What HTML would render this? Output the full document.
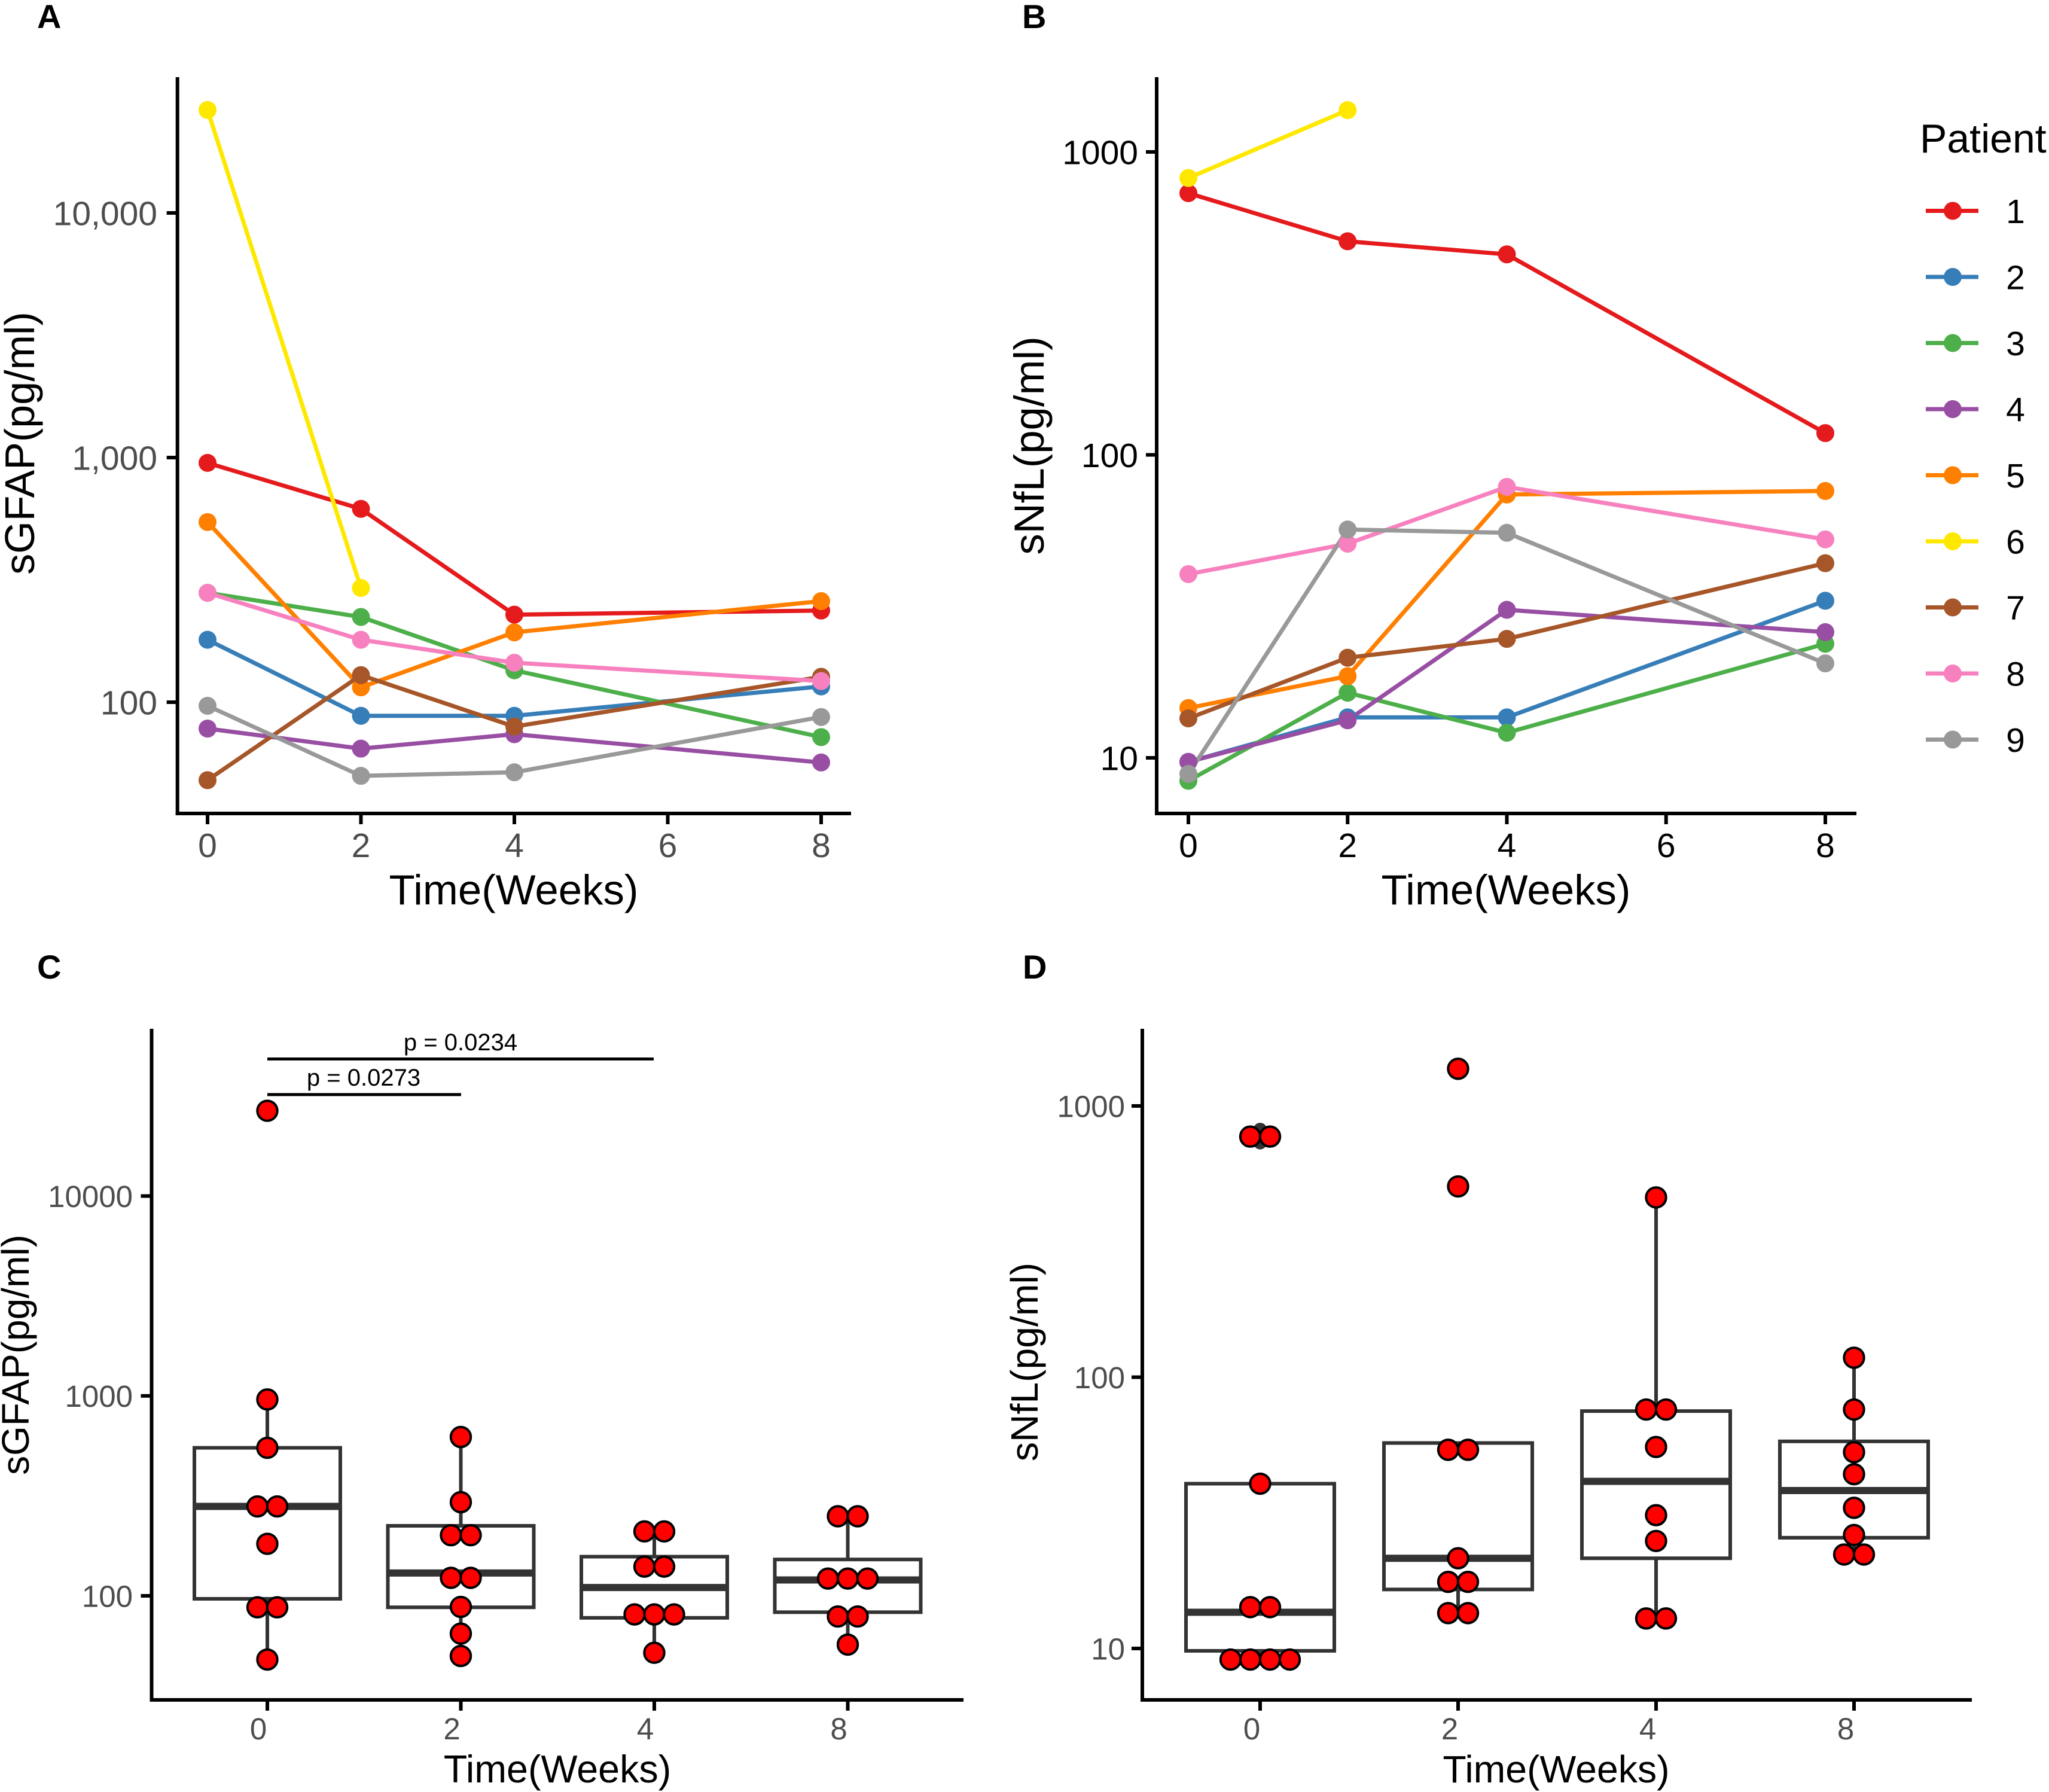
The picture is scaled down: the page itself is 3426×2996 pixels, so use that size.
<!DOCTYPE html>
<html lang="en">
<head>
<meta charset="utf-8">
<title>sGFAP and sNfL over time</title>
<style>
html,body{margin:0;padding:0;background:#fff;}
svg{display:block;}
text{font-family:"Liberation Sans",Arial,sans-serif;}
</style>
</head>
<body>
<svg id="figure" xmlns="http://www.w3.org/2000/svg" width="3426" height="2996" viewBox="0 0 3426 2996">
  <rect x="0" y="0" width="3426" height="2996" fill="#fff"/>

  <text x="62" y="47" font-size="56" font-weight="bold" fill="#000">A</text>
  <text x="1709" y="47" font-size="56" font-weight="bold" fill="#000">B</text>
  <text x="62" y="1636" font-size="56" font-weight="bold" fill="#000">C</text>
  <text x="1710" y="1636" font-size="56" font-weight="bold" fill="#000">D</text>

  <g id="panelA"></g>
  <g id="panelB"></g>
  <g id="panelC"></g>
  <g id="panelD"></g>

  <text transform="translate(57,741) rotate(-90)" text-anchor="middle" font-size="70" fill="#000">sGFAP(pg/ml)</text>
  <text x="859" y="1512" text-anchor="middle" font-size="70.8" fill="#000">Time(Weeks)</text>
  <text transform="translate(1745,745) rotate(-90)" text-anchor="middle" font-size="70.7" fill="#000">sNfL(pg/ml)</text>
  <text x="2518" y="1512" text-anchor="middle" font-size="70.8" fill="#000">Time(Weeks)</text>
  <text transform="translate(48,2265) rotate(-90)" text-anchor="middle" font-size="64" fill="#000">sGFAP(pg/ml)</text>
  <text x="932" y="2980" text-anchor="middle" font-size="64.6" fill="#000">Time(Weeks)</text>
  <text transform="translate(1735,2277) rotate(-90)" text-anchor="middle" font-size="64.3" fill="#000">sNfL(pg/ml)</text>
  <text x="2602" y="2980" text-anchor="middle" font-size="64.4" fill="#000">Time(Weeks)</text>

  <line x1="447" y1="1770.5" x2="1093" y2="1770.5" stroke="#000" stroke-width="5"/>
  <text x="770" y="1756" text-anchor="middle" font-size="40" fill="#000">p = 0.0234</text>
  <line x1="447" y1="1830" x2="771" y2="1830" stroke="#000" stroke-width="5"/>
  <text x="608" y="1815" text-anchor="middle" font-size="40" fill="#000">p = 0.0273</text>

  <g id="legend">
    <text x="3210" y="255" font-size="68" fill="#000">Patient</text>
  </g>
</svg>

<script>
// ---------- shared categories ----------
const weeksLine = [0, 2, 4, 8];
const xTicksLine = [0, 2, 4, 6, 8];
const boxCategories = ['0', '2', '4', '8'];
const patients = ['1', '2', '3', '4', '5', '6', '7', '8', '9'];
const patientColors = ['#e41a1c', '#377eb8', '#4daf4a', '#984ea3', '#ff7f00', '#ffe800', '#a65628', '#f781bf', '#999999'];

// ---------- Panel A: sGFAP per patient ----------
const gfapP1 = [951, 617, 228, 237];
const gfapP2 = [180, 88, 88, 116];
const gfapP3 = [280, 223, 135, 72];
const gfapP4 = [78, 64.6, 74, 56.7];
const gfapP5 = [545, 115, 193, 259];
const gfapP6 = [26360, 293];
const gfapP7 = [48, 129, 79.5, 127];
const gfapP8 = [280, 180, 145, 122];
const gfapP9 = [96.7, 50, 51.7, 87];
const gfapLineTicks = [100, 1000, 10000];
const gfapLineTickLabels = ['100', '1,000', '10,000'];

// ---------- Panel B: sNfL per patient ----------
const nflP1 = [731, 507, 459, 118];
const nflP2 = [9.7, 13.6, 13.6, 33];
const nflP3 = [8.4, 16.4, 12.1, 23.8];
const nflP4 = [9.7, 13.3, 30.8, 26];
const nflP5 = [14.6, 18.6, 74, 76];
const nflP6 = [820, 1374];
const nflP7 = [13.5, 21.4, 24.7, 43.9];
const nflP8 = [40.4, 50.9, 78.4, 52.6];
const nflP9 = [8.85, 56.7, 55.3, 20.5];
const nflLineTicks = [10, 100, 1000];
const nflLineTickLabels = ['10', '100', '1000'];

// ---------- Panel C: sGFAP box summary ----------
const gfapQ1 = [96.6, 87.6, 77.6, 82.8];
const gfapMedian = [280, 130, 110, 120];
const gfapQ3 = [550, 224, 157, 152];
const gfapWhiskerLow = [48, 50, 51.9, 57];
const gfapWhiskerHigh = [960, 623, 210, 250];
const gfapDots0 = [26700, 960, 550, 280, 280, 182, 87.6, 87.6, 48];
const gfapDots2 = [623, 294, 201, 201, 123, 123, 88, 64.7, 50];
const gfapDots4 = [210, 210, 140, 140, 80.7, 80.7, 80.7, 51.9];
const gfapDots8 = [250, 250, 122, 122, 122, 78.8, 78.8, 57];
const gfapBoxTicks = [100, 1000, 10000];
const gfapBoxTickLabels = ['100', '1000', '10000'];

// ---------- Panel D: sNfL box summary ----------
const nflQ1 = [9.8, 16.5, 21.5, 25.6];
const nflMedian = [13.6, 21.5, 41.3, 38.2];
const nflQ3 = [40.5, 57.2, 75, 58];
const nflWhiskerLow = [9.1, 13.5, 12.9, 22.2];
const nflWhiskerHigh = [40.5, 57.2, 460, 118];
const nflOutliers0 = [820, 731];
const nflDots0 = [771, 771, 40.5, 14.2, 14.2, 9.1, 9.1, 9.1, 9.1];
const nflDots2 = [1371, 505, 54, 54, 21.5, 17.6, 17.6, 13.5, 13.5];
const nflDots4 = [460, 76, 76, 55.3, 31, 24.9, 12.9, 12.9];
const nflDots8 = [118, 76, 52.9, 43.9, 33, 26.2, 22.2, 22.2];
const nflBoxTicks = [10, 100, 1000];
const nflBoxTickLabels = ['10', '100', '1000'];

const NS = 'http://www.w3.org/2000/svg';
function make(parent, tag, attrs, text) {
  const el = document.createElementNS(NS, tag);
  for (const k in attrs) el.setAttribute(k, attrs[k]);
  if (text !== undefined) el.textContent = text;
  parent.appendChild(el);
  return el;
}

// Log-y scale defined by the pixel rows of two reference values
function logScale(v1, y1, v2, y2) {
  const a = (y2 - y1) / (Math.log10(v2) - Math.log10(v1));
  return function (v) { return y1 + (Math.log10(v) - Math.log10(v1)) * a; };
}
function linScale(d1, x1, d2, x2) {
  return function (d) { return x1 + (d - d1) * (x2 - x1) / (d2 - d1); };
}

function drawAxes(g, o) {
  const yLine = make(g, 'line', { x1: o.left, y1: o.top, x2: o.left, y2: o.bottom + o.sw / 2, stroke: '#000', 'stroke-width': o.sw });
  
  
  const xLine = make(g, 'line', { x1: o.left - o.sw / 2, y1: o.bottom, x2: o.right, y2: o.bottom, stroke: '#000', 'stroke-width': o.sw });
  
  

  o.yTicks.forEach(function (v, i) {
    const py = o.y(v);
    const t = make(g, 'line', { x1: o.left - 18, y1: py, x2: o.left, y2: py, stroke: '#000', 'stroke-width': o.sw });
    
    
    const l = make(g, 'text', { x: o.yLabelX, y: py + o.fs * 0.36, 'text-anchor': 'end', 'font-size': o.fs, fill: o.tickColor }, o.yLabels[i]);
    
    
  });
  o.xTicks.forEach(function (d) {
    const px = o.x(d.pos);
    const t = make(g, 'line', { x1: px, y1: o.bottom, x2: px, y2: o.bottom + 18, stroke: '#000', 'stroke-width': o.sw });
    
    
    const l = make(g, 'text', { x: px + o.xLabelShift, y: o.xLabelY, 'text-anchor': 'middle', 'font-size': o.fs, fill: o.tickColor }, d.label);
    
    
  });
}

function drawLinePanel(g, id, x, y, series) {
  series.forEach(function (vals, s) {
    const pts = vals.map(function (v, i) { return x(weeksLine[i]) + ',' + y(v); }).join(' ');
    const pl = make(g, 'polyline', { points: pts, fill: 'none', stroke: patientColors[s], 'stroke-width': 7, 'stroke-linejoin': 'round' });
    
    
  });
  series.forEach(function (vals, s) {
    vals.forEach(function (v, i) {
      const c = make(g, 'circle', { cx: x(weeksLine[i]), cy: y(v), r: 15, fill: patientColors[s] });
      
      
    });
  });
}

function drawBoxPanel(g, id, x, y, halfW, stats, dotSets) {
  boxCategories.forEach(function (cat, i) {
    const cx = x(i);
    const w1 = make(g, 'line', { x1: cx, y1: y(stats.q3[i]), x2: cx, y2: y(stats.hi[i]), stroke: '#333', 'stroke-width': 6 });
    
    
    const w2 = make(g, 'line', { x1: cx, y1: y(stats.q1[i]), x2: cx, y2: y(stats.lo[i]), stroke: '#333', 'stroke-width': 6 });
    
    
    const top = y(stats.q3[i]);
    const bot = y(stats.q1[i]);
    const r = make(g, 'rect', { x: cx - halfW, y: top, width: halfW * 2, height: bot - top, fill: '#fff', stroke: '#333', 'stroke-width': 6 });
    
    
    const m = make(g, 'line', { x1: cx - halfW, y1: y(stats.med[i]), x2: cx + halfW, y2: y(stats.med[i]), stroke: '#333', 'stroke-width': 12 });
    
    
  });
  if (stats.outliers) {
    stats.outliers.forEach(function (v, j) {
      const c = make(g, 'circle', { cx: x(0), cy: y(v), r: 11, fill: '#333' });
      
      
    });
  }
  dotSets.forEach(function (vals, i) {
    const counts = {};
    vals.forEach(function (v) { counts[v] = (counts[v] || 0) + 1; });
    const seen = {};
    vals.forEach(function (v, j) {
      seen[v] = (seen[v] || 0) + 1;
      const off = (seen[v] - 1 - (counts[v] - 1) / 2) * 33;
      const c = make(g, 'circle', { cx: x(i) + off, cy: y(v), r: 16.7, fill: '#ff0000', stroke: '#000', 'stroke-width': 4 });
      
      
    });
  });
}

// ----- Panel A -----
const xA = linScale(0, 347, 8, 1373);
const yA = logScale(100, 1174, 10000, 356);
drawAxes(document.getElementById('panelA'), {
  id: 'panel-a', left: 296.7, right: 1423, top: 129, bottom: 1360, sw: 6,
  x: xA, y: yA, yTicks: gfapLineTicks, yLabels: gfapLineTickLabels,
  xTicks: xTicksLine.map(function (w) { return { pos: w, label: String(w) }; }),
  yLabelX: 263, xLabelY: 1433, xLabelShift: 0, fs: 57, tickColor: '#4d4d4d'
});
drawLinePanel(document.getElementById('panelA'), 'panel-a', xA, yA,
  [gfapP1, gfapP2, gfapP3, gfapP4, gfapP5, gfapP6, gfapP7, gfapP8, gfapP9]);

// ----- Panel B -----
const xB = linScale(0, 1987, 8, 3052);
const yB = logScale(10, 1267, 1000, 254);
drawAxes(document.getElementById('panelB'), {
  id: 'panel-b', left: 1934, right: 3104, top: 129, bottom: 1360, sw: 6,
  x: xB, y: yB, yTicks: nflLineTicks, yLabels: nflLineTickLabels,
  xTicks: xTicksLine.map(function (w) { return { pos: w, label: String(w) }; }),
  yLabelX: 1903, xLabelY: 1433, xLabelShift: 0, fs: 57, tickColor: '#000'
});
drawLinePanel(document.getElementById('panelB'), 'panel-b', xB, yB,
  [nflP1, nflP2, nflP3, nflP4, nflP5, nflP6, nflP7, nflP8, nflP9]);

// ----- Panel C -----
const xC = linScale(0, 447, 3, 1417.5);
const yC = logScale(100, 2668, 10000, 1999.6);
drawAxes(document.getElementById('panelC'), {
  id: 'panel-c', left: 253.5, right: 1611, top: 1720, bottom: 2842, sw: 6,
  x: xC, y: yC, yTicks: gfapBoxTicks, yLabels: gfapBoxTickLabels,
  xTicks: boxCategories.map(function (c, i) { return { pos: i, label: c }; }),
  yLabelX: 222, xLabelY: 2908, xLabelShift: -15, fs: 51, tickColor: '#4d4d4d'
});
drawBoxPanel(document.getElementById('panelC'), 'panel-c', xC, yC, 122,
  { q1: gfapQ1, med: gfapMedian, q3: gfapQ3, lo: gfapWhiskerLow, hi: gfapWhiskerHigh },
  [gfapDots0, gfapDots2, gfapDots4, gfapDots8]);

// ----- Panel D -----
const xD = linScale(0, 2107, 3, 3100);
const yD = logScale(10, 2756, 1000, 1849);
drawAxes(document.getElementById('panelD'), {
  id: 'panel-d', left: 1910, right: 3297, top: 1720, bottom: 2842, sw: 6,
  x: xD, y: yD, yTicks: nflBoxTicks, yLabels: nflBoxTickLabels,
  xTicks: boxCategories.map(function (c, i) { return { pos: i, label: c }; }),
  yLabelX: 1881, xLabelY: 2908, xLabelShift: -14, fs: 51, tickColor: '#4d4d4d'
});
drawBoxPanel(document.getElementById('panelD'), 'panel-d', xD, yD, 124,
  { q1: nflQ1, med: nflMedian, q3: nflQ3, lo: nflWhiskerLow, hi: nflWhiskerHigh, outliers: nflOutliers0 },
  [nflDots0, nflDots2, nflDots4, nflDots8]);

// ----- Legend -----
const legendG = document.getElementById('legend');
patients.forEach(function (p, i) {
  const ly = 352.5 + i * 110.5;
  const ln = make(legendG, 'line', { x1: 3220, y1: ly, x2: 3308, y2: ly, stroke: patientColors[i], 'stroke-width': 7 });
  
  
  const c = make(legendG, 'circle', { cx: 3265, cy: ly, r: 15, fill: patientColors[i] });
  
  
  const t = make(legendG, 'text', { x: 3370, y: ly + 20.5, 'text-anchor': 'middle', 'font-size': 57, fill: '#000' }, p);
  
  
});
</script>
</body>
</html>
